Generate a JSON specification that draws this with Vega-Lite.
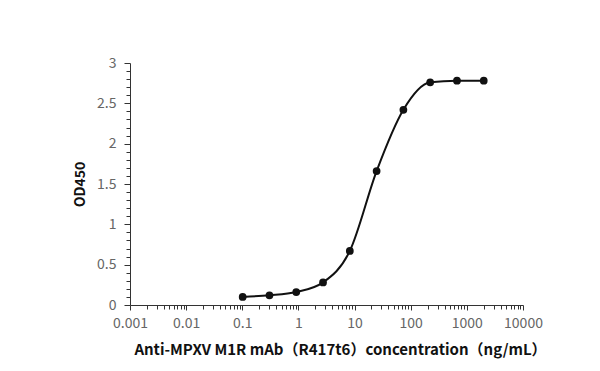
{
  "$schema": "https://vega.github.io/schema/vega-lite/v6.json",
  "autosize": "none",
  "width": 393,
  "height": 242,
  "padding": {"left": 130, "top": 63, "right": 77, "bottom": 66},
  "background": "white",
  "config": {"view": {"stroke": null}, "font": "Noto Sans CJK SC"},
  "data": {"values": [
    {"conc": 0.1016, "od": 0.10},
    {"conc": 0.3048, "od": 0.12},
    {"conc": 0.9145, "od": 0.16},
    {"conc": 2.743, "od": 0.28},
    {"conc": 8.230, "od": 0.67},
    {"conc": 24.69, "od": 1.66},
    {"conc": 74.07, "od": 2.42},
    {"conc": 222.2, "od": 2.76},
    {"conc": 666.7, "od": 2.78},
    {"conc": 2000, "od": 2.78}
  ]},
  "encoding": {
    "x": {
      "field": "conc", "type": "quantitative",
      "scale": {"type": "log", "domain": [0.001, 10000], "nice": false},
      "axis": {
        "title": "Anti-MPXV M1R mAb（R417t6）concentration（ng/mL）",
        "titleFontWeight": "bold", "titleFontSize": 15, "titleColor": "#111",
        "titlePadding": 12, "titleX": 210,
        "values": [0.001,0.002,0.003,0.004,0.005,0.006,0.007,0.008,0.009,
                   0.01,0.02,0.03,0.04,0.05,0.06,0.07,0.08,0.09,
                   0.1,0.2,0.3,0.4,0.5,0.6,0.7,0.8,0.9,
                   1,2,3,4,5,6,7,8,9,
                   10,20,30,40,50,60,70,80,90,
                   100,200,300,400,500,600,700,800,900,
                   1000,2000,3000,4000,5000,6000,7000,8000,9000,10000],
        "labelExpr": "abs(log(datum.value)/LN10 - round(log(datum.value)/LN10)) < 1e-6 ? format(datum.value, '') : ''",
        "labelFontSize": 14, "labelColor": "#666", "labelPadding": 6,
        "domainColor": "#333", "tickColor": "#333",
        "tickSize": {"condition": {"test": "abs(log(datum.value)/LN10 - round(log(datum.value)/LN10)) < 1e-6", "value": 5}, "value": 4},
        "grid": false, "labelFlush": false, "labelOverlap": false
      }
    },
    "y": {
      "field": "od", "type": "quantitative",
      "scale": {"domain": [0, 3], "nice": false},
      "axis": {
        "title": "OD450",
        "titleFontWeight": "bold", "titleFontSize": 14, "titleColor": "#111",
        "titlePadding": 9,
        "values": [0,0.1,0.2,0.3,0.4,0.5,0.6,0.7,0.8,0.9,1,1.1,1.2,1.3,1.4,1.5,1.6,1.7,1.8,1.9,2,2.1,2.2,2.3,2.4,2.5,2.6,2.7,2.8,2.9,3],
        "labelExpr": "abs(datum.value*2 - round(datum.value*2)) < 1e-6 ? format(datum.value, '') : ''",
        "labelFontSize": 14, "labelColor": "#666", "labelPadding": 8,
        "domainColor": "#333", "tickColor": "#333",
        "tickSize": {"condition": {"test": "abs(datum.value*2 - round(datum.value*2)) < 1e-6", "value": 6}, "value": 4},
        "grid": false, "labelOverlap": false
      }
    }
  },
  "layer": [
    {"mark": {"type": "line", "interpolate": "monotone", "color": "#111", "strokeWidth": 2}},
    {"mark": {"type": "point", "filled": true, "color": "#111", "size": 60, "opacity": 1}}
  ]
}
